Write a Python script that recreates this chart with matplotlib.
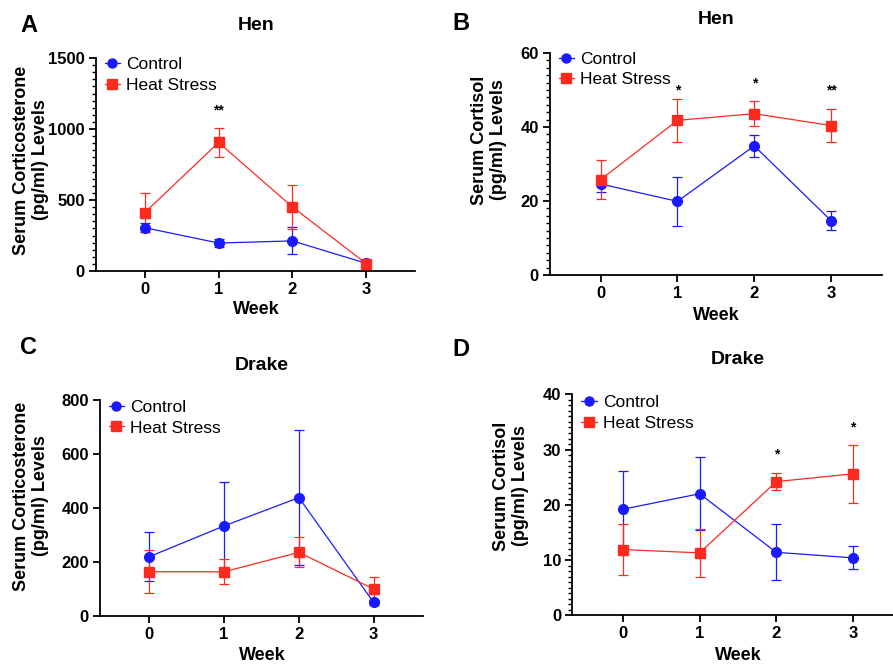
import matplotlib
matplotlib.use("Agg")
import matplotlib.pyplot as plt
from matplotlib.ticker import MultipleLocator
from matplotlib.lines import Line2D

plt.rcParams['font.family'] = ['Liberation Sans', 'DejaVu Sans']

weeks = [0, 1, 2, 3]

# panel A - hen corticosterone
hen_cort_ctrl = [305, 197, 212, 54]
hen_cort_ctrl_err = [30, 28, 95, 10]
hen_cort_heat = [411, 905, 451, 52]
hen_cort_heat_err = [138, 103, 152, 10]
hen_cort_stars = ["", "**", "", ""]

# panel B - hen cortisol
hen_cortisol_ctrl = [24.6, 19.9, 34.9, 14.7]
hen_cortisol_ctrl_err = [2.2, 6.6, 3.0, 2.5]
hen_cortisol_heat = [25.8, 41.8, 43.6, 40.4]
hen_cortisol_heat_err = [5.2, 5.9, 3.3, 4.5]
hen_cortisol_stars = ["", "*", "*", "**"]

# panel C - drake corticosterone
drake_cort_ctrl = [219, 333, 438, 49]
drake_cort_ctrl_err = [91, 163, 250, 10]
drake_cort_heat = [163, 163, 235, 99]
drake_cort_heat_err = [80, 47, 56, 46]
drake_cort_stars = ["", "", "", ""]

# panel D - drake cortisol
drake_cortisol_ctrl = [19.2, 22.0, 11.4, 10.4]
drake_cortisol_ctrl_err = [7.0, 6.6, 5.1, 2.1]
drake_cortisol_heat = [11.9, 11.3, 24.2, 25.6]
drake_cortisol_heat_err = [4.65, 4.4, 1.6, 5.3]
drake_cortisol_stars = ["", "", "*", "*"]

BLUE = "#1a1aff"
RED = "#ff2a1f"
W, H = 893, 664

fig = plt.figure(figsize=(W / 100, H / 100), dpi=100)


def px(x, y):
    return x / W, 1 - y / H


panels = [
    dict(rect=(96, 58, 415, 271), letter="A", lpos=(20, 25), title="Hen", tpos=(256, 25),
         ylab="Serum Corticosterone\n(pg/ml) Levels", ylpos=(31, 160), xlpos=(256, 310),
         ctrl=hen_cort_ctrl, ctrl_err=hen_cort_ctrl_err, heat=hen_cort_heat,
         heat_err=hen_cort_heat_err, stars=hen_cort_stars, star_y=[0, 1128, 0, 0],
         ymax=1500, major=500, minor=50, leg_y=1.045),
    dict(rect=(550, 53, 881.7, 275), letter="B", lpos=(452, 23), title="Hen", tpos=(716, 20),
         ylab="Serum Cortisol\n(pg/ml) Levels", ylpos=(489, 140), xlpos=(716, 315),
         ctrl=hen_cortisol_ctrl, ctrl_err=hen_cortisol_ctrl_err, heat=hen_cortisol_heat,
         heat_err=hen_cortisol_heat_err, stars=hen_cortisol_stars, star_y=[0, 49.9, 51.7, 49.9],
         ymax=60, major=20, minor=2, leg_y=1.045),
    dict(rect=(100, 400, 423, 615.7), letter="C", lpos=(20, 348), title="Drake", tpos=(262, 366),
         ylab="Serum Corticosterone\n(pg/ml) Levels", ylpos=(31, 496), xlpos=(262, 655),
         ctrl=drake_cort_ctrl, ctrl_err=drake_cort_ctrl_err, heat=drake_cort_heat,
         heat_err=drake_cort_heat_err, stars=drake_cort_stars, star_y=[0, 0, 0, 0],
         ymax=800, major=200, minor=None, leg_y=1.04),
    dict(rect=(572.3, 394.3, 903.6, 615.3), letter="D", lpos=(452, 350), title="Drake", tpos=(738, 360),
         ylab="Serum Cortisol\n(pg/ml) Levels", ylpos=(511, 486), xlpos=(738, 655),
         ctrl=drake_cortisol_ctrl, ctrl_err=drake_cortisol_ctrl_err, heat=drake_cortisol_heat,
         heat_err=drake_cortisol_heat_err, stars=drake_cortisol_stars, star_y=[0, 0, 29.2, 34.0],
         ymax=40, major=10, minor=1, leg_y=1.035),
]

# legend handles: marker with a short line, no error bar
handles = [Line2D([], [], color=BLUE, marker="o", ms=6.5, lw=0.9),
           Line2D([], [], color=RED, marker="s", ms=6.5, lw=0.9)]

for p in panels:
    x0, y0, x1, y1 = p["rect"]
    ax = fig.add_axes([x0 / W, 1 - y1 / H, (x1 - x0) / W, (y1 - y0) / H])

    ax.errorbar(weeks, p["ctrl"], yerr=p["ctrl_err"], color=BLUE, marker="o", ms=7,
                lw=0.9, elinewidth=0.9, capsize=3.5, capthick=0.9, ecolor=BLUE, zorder=3)
    ax.errorbar(weeks, p["heat"], yerr=p["heat_err"], color=RED, marker="s", ms=7,
                lw=0.9, elinewidth=0.9, capsize=3.5, capthick=0.9, ecolor=RED, zorder=3)

    for wk, s, sy in zip(weeks, p["stars"], p["star_y"]):
        if s:
            ax.text(wk, sy, s, ha="center", va="center", fontsize=10, fontweight="bold")

    ax.set_xlim(-0.66, 3.66)
    ax.set_ylim(0, p["ymax"])
    ax.set_xticks(weeks)
    ax.yaxis.set_major_locator(MultipleLocator(p["major"]))
    if p["minor"]:
        ax.yaxis.set_minor_locator(MultipleLocator(p["minor"]))
    for side in ["top", "right"]:
        ax.spines[side].set_visible(False)
    for side in ["left", "bottom"]:
        ax.spines[side].set_linewidth(1.3)
    ax.tick_params(which="major", length=5, width=1.3, labelsize=12, pad=3)
    ax.tick_params(which="minor", length=3, width=1.0)
    for lab in ax.get_xticklabels() + ax.get_yticklabels():
        lab.set_fontweight("bold")

    ax.legend(handles, ["Control", "Heat Stress"], loc="upper left", bbox_to_anchor=(0.0, p["leg_y"]),
              frameon=False, fontsize=12.5, handlelength=0.9, handletextpad=0.35,
              borderaxespad=0.1, labelspacing=0.3)

    fig.text(*px(*p["lpos"]), p["letter"], fontsize=17, fontweight="bold", ha="left", va="center")
    fig.text(*px(*p["tpos"]), p["title"], fontsize=14, fontweight="bold", ha="center", va="center")
    fig.text(*px(*p["xlpos"]), "Week", fontsize=13, fontweight="bold", ha="center", va="center")
    fig.text(*px(*p["ylpos"]), p["ylab"], fontsize=13, fontweight="bold", ha="center",
             va="center", rotation=90, multialignment="center", linespacing=1.15)

fig.savefig("out.png", dpi=100)
